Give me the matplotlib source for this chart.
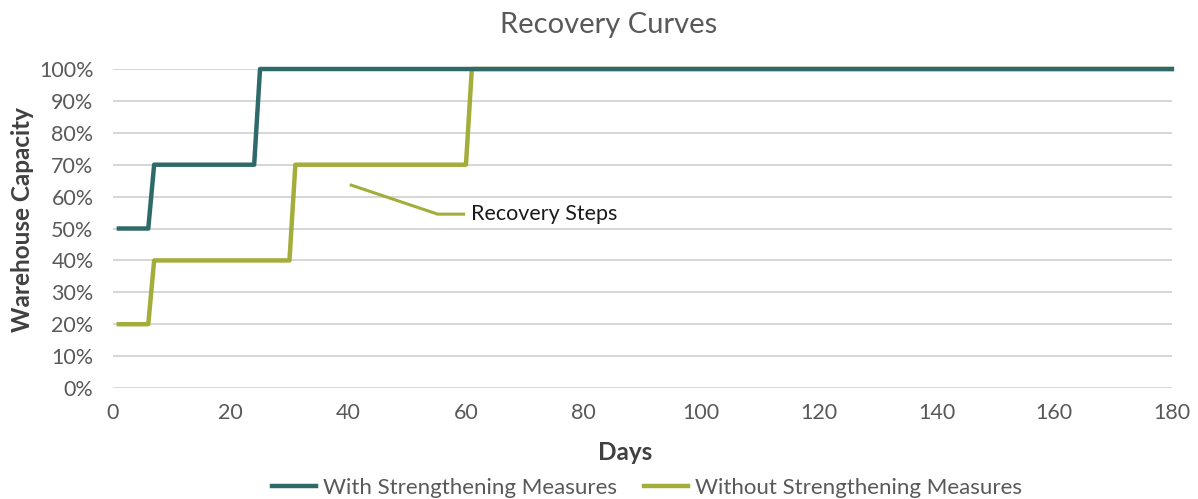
import matplotlib
matplotlib.use("Agg")
import matplotlib.pyplot as plt
from matplotlib.ticker import FuncFormatter

# recovery steps: (day, capacity %)
with_days = [1, 6, 7, 24, 25, 180]
with_capacity = [50, 50, 70, 70, 100, 100]
without_days = [1, 6, 7, 30, 31, 60, 61, 180]
without_capacity = [20, 20, 40, 40, 70, 70, 100, 100]

series_labels = ["With Strengthening Measures", "Without Strengthening Measures"]
teal = "#2f6a6a"
olive = "#a2ad3a"

plt.rcParams["font.family"] = ["Lato", "DejaVu Sans"]

fig = plt.figure(figsize=(11.98, 4.99), dpi=100)
ax = fig.add_axes([0.0943, 0.2224, 0.8839, 0.6393])

ax.plot(without_days, without_capacity, color=olive, lw=3.2,
        label=series_labels[1], clip_on=False, zorder=3)
ax.plot(with_days, with_capacity, color=teal, lw=3.2,
        label=series_labels[0], clip_on=False, zorder=4)

ax.set_xlim(0, 180)
ax.set_ylim(0, 100)
ax.set_xticks(range(0, 181, 20))
ax.set_yticks(range(0, 101, 10))
ax.yaxis.set_major_formatter(FuncFormatter(lambda v, _: f"{v:.0f}%"))
ax.grid(axis="y", color="#d0d0d0", lw=1.2)
ax.set_axisbelow(True)
for s in ax.spines.values():
    s.set_visible(False)
ax.tick_params(length=0, labelsize=15.5, labelcolor="#595959")
ax.tick_params(axis="x", pad=11)
ax.tick_params(axis="y", pad=14)

fig.text(0.508, 0.95, "Recovery Curves", fontsize=21, color="#595959",
         ha="center", va="center")
fig.text(0.522, 0.094, "Days", fontsize=17.5, fontweight="bold", color="#404040",
         ha="center", va="center")
fig.text(0.019, 0.559, "Warehouse Capacity", fontsize=17.5, fontweight="bold",
         color="#404040", ha="center", va="center", rotation=90)

# callout label
ax.plot([40.5, 55.2, 59.6], [63.6, 54.5, 54.5], color=olive, lw=2.2, zorder=2)
ax.text(60.8, 54.5, "Recovery Steps", fontsize=15.5, color="#1a1a1a", va="center", ha="left")

handles, labels = ax.get_legend_handles_labels()
fig.legend(handles[::-1], labels[::-1], loc="center", bbox_to_anchor=(0.54, 0.022),
           ncol=2, frameon=False, fontsize=16, labelcolor="#595959",
           handlelength=2.0, columnspacing=1.2, handletextpad=0.3)

fig.savefig("out.png", dpi=100)
